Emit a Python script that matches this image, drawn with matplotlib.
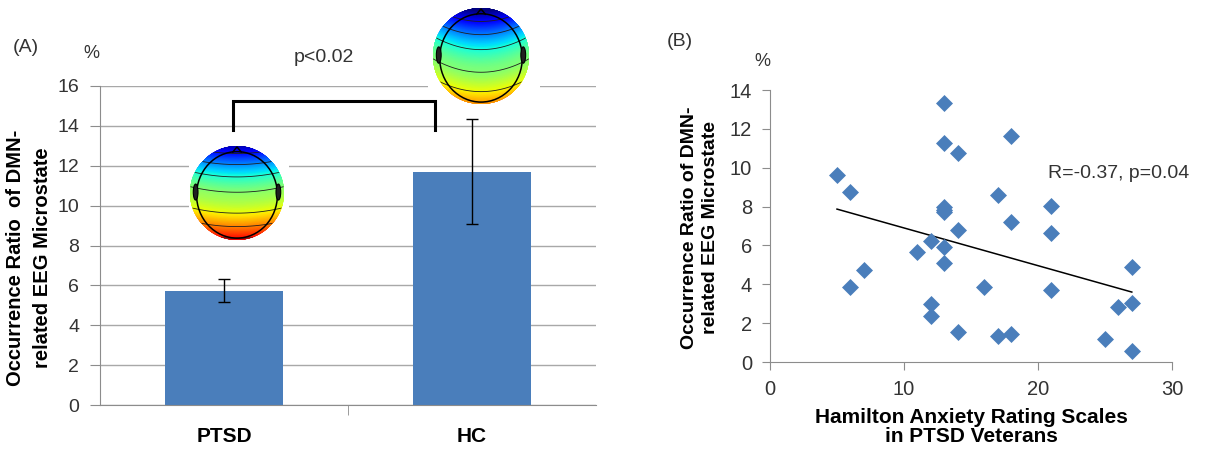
import numpy as np
import matplotlib
matplotlib.use('Agg')
import matplotlib.pyplot as plt
from matplotlib.patches import Circle, Ellipse, Polygon, Rectangle

plt.rcParams['font.family'] = ['Liberation Sans', 'DejaVu Sans']

# ---------------- data ----------------
groups = ['PTSD', 'HC']
means = [5.7, 11.67]
err_low = [0.55, 2.59]
err_high = [0.6, 2.67]
yticks_a = [0, 2, 4, 6, 8, 10, 12, 14, 16]

hama = [13, 13, 14, 18, 5, 6, 17, 21, 13, 13, 13, 18, 21, 14, 12, 13,
        11, 13, 7, 27, 6, 16, 21, 12, 12, 26, 27, 14, 17, 18, 25, 27]
ratio = [13.35, 11.25, 10.77, 11.63, 9.62, 8.77, 8.6, 8.05, 8.0, 7.8, 7.7,
         7.22, 6.66, 6.79, 6.24, 5.9, 5.64, 5.11, 4.73, 4.87, 3.84, 3.84,
         3.7, 2.98, 2.37, 2.85, 3.02, 1.53, 1.34, 1.44, 1.17, 0.58]
trend_x = [5, 27]
trend_y = [7.87, 3.6]
xticks_b = [0, 10, 20, 30]
yticks_b = [0, 2, 4, 6, 8, 10, 12, 14]

W, H = 1209, 451
fig = plt.figure(figsize=(W / 100, H / 100), dpi=100)

BLUE = '#4a7ebb'
GRID = '#a8a8a8'
SPINE = '#8c8c8c'
TXT = '#333333'

def fx(px):
    return px / W

def fy(py):
    return 1 - py / H

# ---------------- Panel A ----------------
axA = fig.add_axes([fx(100), fy(405), fx(596) - fx(100), fy(86) - fy(405)])
xpos = np.arange(len(groups))
axA.bar(xpos, means, width=0.475, color=BLUE, zorder=2)
axA.errorbar(xpos, means, yerr=[err_low, err_high], fmt='none', ecolor='black',
             elinewidth=1.0, capsize=4, capthick=1.0, zorder=3)
axA.set_xlim(-0.5, 1.5)
axA.set_ylim(0, 16)
axA.set_yticks(yticks_a)
axA.yaxis.grid(True, color=GRID, linewidth=1.0, zorder=0)
axA.set_axisbelow(True)
for s in ['top', 'right']:
    axA.spines[s].set_visible(False)
for s in ['left', 'bottom']:
    axA.spines[s].set_color(SPINE)
axA.tick_params(axis='y', direction='out', length=7, color=SPINE, labelsize=14,
                labelcolor=TXT, pad=8)
axA.set_xticks(xpos)
axA.set_xticklabels(groups, fontsize=15, fontweight='bold', color='black')
axA.tick_params(axis='x', length=0, pad=16)
axA.set_xticks([0.5], minor=True)
axA.tick_params(axis='x', which='minor', direction='out', length=7, color=SPINE)

# significance bracket
axA.plot([0.036, 0.036, 0.851, 0.851], [13.8, 15.25, 15.25, 13.8], color='black',
         linewidth=2.2, zorder=4, solid_joinstyle='miter')

fig.text(fx(324), fy(57), 'p<0.02', fontsize=14, ha='center', va='center', color=TXT)
fig.text(fx(26), fy(47), '(A)', fontsize=14, ha='center', va='center', color=TXT)
fig.text(fx(91), fy(53), '%', fontsize=13, ha='center', va='center', color=TXT)
fig.text(fx(29), fy(258), 'Occurrence Ratio  of DMN-\nrelated EEG Microstate', fontsize=14.5,
         fontweight='bold', rotation=90, ha='center', va='center',
         multialignment='center', linespacing=1.5)

# ---------------- topomaps (illustrations) ----------------
def topomap(box, white_bottom, center, r, curv, vmin, vmax):
    x0, y0, x1, y1 = box
    ax = fig.add_axes([fx(x0), fy(y1), fx(x1) - fx(x0), fy(y0) - fy(y1)], zorder=5)
    ax.set_xlim(x0, x1)
    ax.set_ylim(y1, y0)
    ax.patch.set_alpha(0)
    ax.set_xticks([])
    ax.set_yticks([])
    for s in ax.spines.values():
        s.set_visible(False)
    ax.add_patch(Rectangle((x0, y0), x1 - x0, white_bottom - y0, facecolor='white',
                           edgecolor='none', zorder=0))
    cx, cy = center
    g = np.linspace(-1, 1, 160)
    GX, GY = np.meshgrid(g, g)
    F = GY - curv * (1 - GX ** 2)
    F = np.sign(F) * np.abs(F) ** 1.3
    Xp = cx + r * GX
    Yp = cy + r * GY
    clip = Circle((cx, cy), r, transform=ax.transData, facecolor='none', edgecolor='none')
    ax.add_patch(clip)
    pm = ax.pcolormesh(Xp, Yp, F, cmap='jet', vmin=vmin, vmax=vmax, shading='gouraud',
                       zorder=1)
    pm.set_clip_path(clip)
    cs = ax.contour(Xp, Yp, F, levels=np.linspace(vmin + 0.3, vmax - 0.25, 7),
                    colors='#202020', linewidths=0.6, linestyles='solid', zorder=2)
    cs.set_clip_path(clip)
    head = Ellipse((cx, cy + 0.04 * r), 1.72 * r, 1.84 * r, facecolor='none',
                   edgecolor='black', linewidth=1.1, zorder=3)
    ax.add_patch(head)
    nose = Polygon([[cx - 0.1 * r, cy - 0.86 * r], [cx, cy - 0.98 * r],
                    [cx + 0.1 * r, cy - 0.86 * r]], closed=False, fill=False,
                   edgecolor='black', linewidth=1.1, zorder=3)
    ax.add_patch(nose)
    for sgn in (-1, 1):
        ear = Ellipse((cx + sgn * 0.88 * r, cy - 0.02 * r), 0.1 * r, 0.34 * r,
                      facecolor='#202020', edgecolor='black', linewidth=0.8, zorder=3)
        ax.add_patch(ear)

topomap((189, 143, 289, 244), 244, (237, 193), 47, 0.12, -1.25, 1.05)
topomap((428, 2, 540, 106), 95, (481, 56), 48, 0.28, -1.3, 1.3)

# ---------------- Panel B ----------------
axB = fig.add_axes([fx(770), fy(362), fx(1172) - fx(770), fy(90) - fy(362)])
axB.scatter(hama, ratio, marker='D', s=75, color=BLUE, zorder=3, linewidths=0)
axB.plot(trend_x, trend_y, color='black', linewidth=1.1, zorder=2)
axB.set_xlim(0, 30)
axB.set_ylim(0, 14)
axB.set_xticks(xticks_b)
axB.set_yticks(yticks_b)
for s in ['top', 'right']:
    axB.spines[s].set_visible(False)
for s in ['left', 'bottom']:
    axB.spines[s].set_color(SPINE)
axB.tick_params(axis='both', direction='out', length=6, color=SPINE, labelsize=14.5,
                labelcolor=TXT)
axB.tick_params(axis='y', pad=7)
axB.tick_params(axis='x', pad=7)

fig.text(fx(1048), fy(173), 'R=-0.37, p=0.04', fontsize=14, ha='left', va='center', color=TXT)
fig.text(fx(680), fy(42), '(B)', fontsize=14, ha='center', va='center', color=TXT)
fig.text(fx(762), fy(62), '%', fontsize=13, ha='center', va='center', color=TXT)
fig.text(fx(700), fy(228), 'Occurrence Ratio of DMN-\nrelated EEG Microstate', fontsize=14,
         fontweight='bold', rotation=90, ha='center', va='center',
         multialignment='center', linespacing=1.25)
fig.text(fx(971), fy(427), 'Hamilton Anxiety Rating Scales\nin PTSD Veterans', fontsize=15,
         fontweight='bold', ha='center', va='center', multialignment='center',
         linespacing=1.0)

fig.savefig('out.png', dpi=100, facecolor='white')
